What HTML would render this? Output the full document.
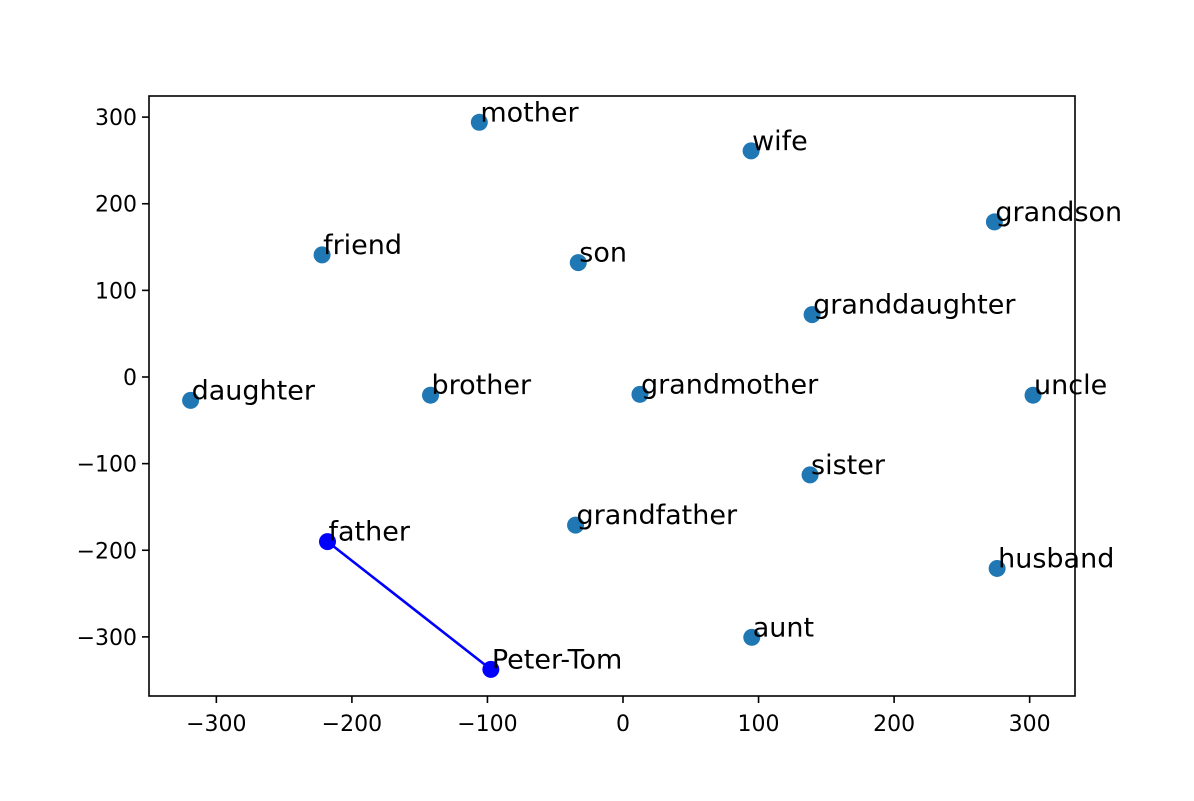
<!DOCTYPE html>
<html><head><meta charset="utf-8"><style>
body{margin:0;background:#fff}
svg text{font-family:"DejaVu Sans","Liberation Sans",sans-serif}
</style></head><body>
<svg id="chart" width="1194" height="796" xmlns="http://www.w3.org/2000/svg">
<rect x="0" y="0" width="1194" height="796" fill="#fff"/>
<g id="plot"></g>
</svg>
<script>
const words=["mother","wife","grandson","friend","son","granddaughter","daughter","brother","grandmother","uncle","sister","grandfather","husband","aunt"];
const xs=[-106,94.5,274,-222,-33,139.5,-319,-142,12.5,302.5,138,-35,276,95];
const ys=[294,261,179,141,132,72,-27,-21,-20,-21,-113,-171,-221,-300.5];
const pathWords=["father","Peter-Tom"];
const pathX=[-218,-97.5];
const pathY=[-190,-337.5];
const xTicks=[-300,-200,-100,0,100,200,300];
const yTicks=[-300,-200,-100,0,100,200,300];
const xTickLabels=["\u2212300","\u2212200","\u2212100","0","100","200","300"];
const yTickLabels=["\u2212300","\u2212200","\u2212100","0","100","200","300"];

const L=149,R=1075,T=96,B=696;
const sx=v=>623+v*1.3555;
const sy=v=>377-v*0.8663;
const NS="http://www.w3.org/2000/svg";
const g=document.getElementById('plot');
function mk(tag,attrs,parent){const e=document.createElementNS(NS,tag);for(const k in attrs)e.setAttribute(k,attrs[k]);(parent||g).appendChild(e);return e;}

const frame=mk('rect',{x:L,y:T,width:R-L,height:B-T,fill:'none',stroke:'#000','stroke-width':1.6});



xTicks.forEach((t,i)=>{
  const x=sx(t);
  const tk=mk('line',{x1:x,x2:x,y1:B,y2:B+7,stroke:'#000','stroke-width':1.6});
  
  
  const tx=mk('text',{x:x,y:B+35,'text-anchor':'middle','font-size':22});
  tx.textContent=xTickLabels[i];
  
  
});
yTicks.forEach((t,i)=>{
  const y=sy(t);
  const tk=mk('line',{x1:L-7,x2:L,y1:y,y2:y,stroke:'#000','stroke-width':1.6});
  
  
  const tx=mk('text',{x:L-12,y:y+8,'text-anchor':'end','font-size':22});
  tx.textContent=yTickLabels[i];
  
  
});

words.forEach((w,i)=>{
  const c=mk('circle',{cx:sx(xs[i]),cy:sy(ys[i]),r:8.5,fill:'#1f77b4'});
  
  
  const t=mk('text',{x:sx(xs[i])+1,y:sy(ys[i])-1,'font-size':27});
  t.textContent=w;
  
  
});

const pl=mk('polyline',{points:pathX.map((v,i)=>sx(v)+','+sy(pathY[i])).join(' '),fill:'none',stroke:'#0000ff','stroke-width':2.6});


pathWords.forEach((w,i)=>{
  const c=mk('circle',{cx:sx(pathX[i]),cy:sy(pathY[i]),r:8.5,fill:'#0000ff'});
  
  
  const t=mk('text',{x:sx(pathX[i])+1,y:sy(pathY[i])-1,'font-size':27});
  t.textContent=w;
  
  
});
</script>
</body></html>
